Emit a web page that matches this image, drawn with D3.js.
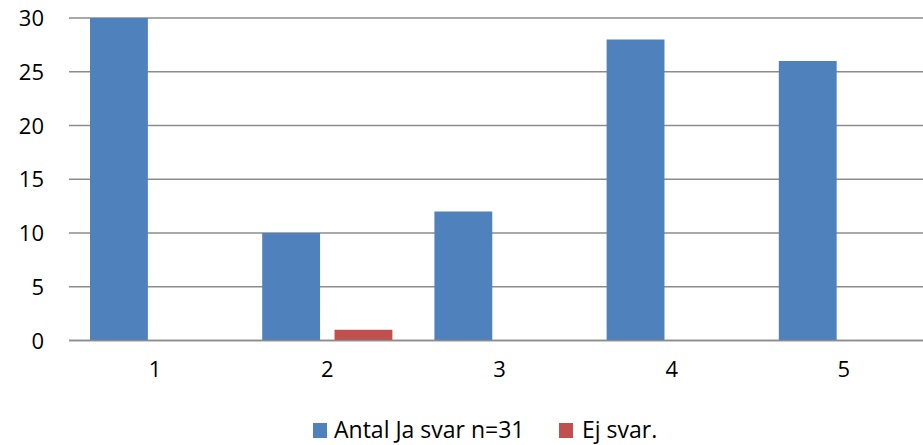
<!DOCTYPE html>
<html><head><meta charset="utf-8">
<script src="https://cdn.jsdelivr.net/npm/d3@7"></script>
<style>body{margin:0;background:#fff}svg{display:block}text{font-family:"Open Sans",Lato,sans-serif;fill:#000}</style>
</head><body>
<script>
const categories = ["1","2","3","4","5"];
const seriesNames = ["Antal Ja svar n=31","Ej svar."];
const jaValues = [30,10,12,28,26];
const ejValues = [0,1,0,0,0];
const yTicks = [0,5,10,15,20,25,30];
const colors = ["#4F81BD","#C0504D"];

const W=923,H=445;
const svg=d3.select("body").append("svg").attr("width",W).attr("height",H);
const data=categories.map((c,i)=>({cat:c,vals:[jaValues[i],ejValues[i]]}));

const x0=d3.scaleBand().domain(categories).range([69,930]).padding(0);
const bw=x0.bandwidth();
const x1=d3.scaleBand().domain([0,1]).range([bw*0.122,bw-bw*0.122]).paddingInner(0.2);
const y=d3.scaleLinear().domain([0,30]).range([340.5,18]);

// gridlines
svg.append("g").selectAll("line").data(yTicks).join("line")
  .attr("x1",69).attr("x2",W).attr("y1",d=>y(d)).attr("y2",d=>y(d))
  .attr("stroke","#8c8c8c").attr("stroke-width",1.6);

// y axis labels
const ya=d3.axisLeft(y).tickValues(yTicks).tickSize(0).tickPadding(0);
const yg=svg.append("g").attr("transform","translate(44,0)").call(ya);
yg.select(".domain").remove();
yg.selectAll("text").style("font-size","22px").attr("dy","0.35em");

// bars
const g=svg.append("g").selectAll("g").data(data).join("g")
  .attr("transform",d=>`translate(${x0(d.cat)},0)`);
g.selectAll("rect").data(d=>d.vals.map((v,i)=>({v,i}))).join("rect")
  .attr("x",d=>x1(d.i)).attr("width",x1.bandwidth())
  .attr("y",d=>y(d.v)).attr("height",d=>y(0)-y(d.v))
  .attr("fill",d=>colors[d.i]);

// baseline redraw
svg.append("line").attr("x1",69).attr("x2",W).attr("y1",y(0)).attr("y2",y(0))
  .attr("stroke","#8c8c8c").attr("stroke-width",1.6);

// x axis labels
const xa=d3.axisBottom(x0).tickSize(0).tickPadding(0);
const xg=svg.append("g").attr("transform","translate(0,361)").call(xa);
xg.select(".domain").remove();
xg.selectAll("text").style("font-size","22px").attr("dy","0.71em");

// legend
const leg=[{x:313,tx:334},{x:559,tx:582}];
seriesNames.forEach((n,i)=>{
  svg.append("rect").attr("x",leg[i].x).attr("y",423).attr("width",14).attr("height",15).attr("fill",colors[i]);
  svg.append("text").attr("x",leg[i].tx).attr("y",438).style("font-size","23px").text(n);
});
</script>
</body></html>
